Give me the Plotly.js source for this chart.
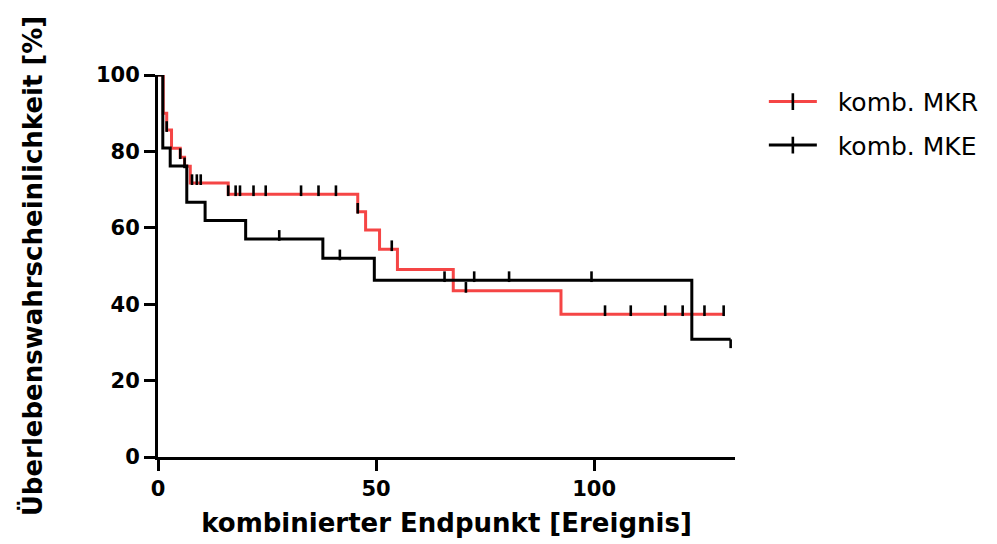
<!DOCTYPE html>
<html>
<head>
<meta charset="utf-8">
<script src="https://cdn.plot.ly/plotly-3.0.1.min.js"></script>
<style>html,body{margin:0;padding:0;background:#fff;}#chart{width:997px;height:544px;}</style>
</head>
<body>
<div id="chart"></div>
<script>
// ---- data ----
const seriesNames = ["komb. MKR", "komb. MKE"];

// komb. MKR (red): step times and survival (%) after each step
const mkrTimes = [0, 1.2, 2.0, 3.1, 5.1, 6.1, 7.4, 16.1, 45.8, 47.6, 50.8, 54.9, 67.7, 92.4];
const mkrSurv  = [100, 90.0, 85.6, 80.8, 78.5, 76.1, 71.7, 68.8, 64.2, 59.4, 54.4, 49.1, 43.5, 37.4];
const mkrEnd = 129.7;
const mkrCensored = [2.0, 5.1, 6.1, 7.8, 8.9, 9.8, 16.1, 17.8, 18.8, 21.9, 24.7, 32.8, 36.8, 40.8,
                     45.8, 53.6, 70.6, 102.5, 108.4, 116.3, 120.3, 125.3, 129.7];

// komb. MKE (black)
const mkeTimes = [0, 1.1, 2.8, 6.6, 10.8, 20.1, 37.8, 49.6, 122.4];
const mkeSurv  = [100, 80.9, 76.2, 66.7, 61.9, 57.1, 52.0, 46.3, 30.8];
const mkeEnd = 131.3;
const mkeCensored = [27.8, 41.7, 65.7, 72.5, 80.5, 99.4, 131.3];

const xTicks = [0, 50, 100];
const yTicks = [0, 20, 40, 60, 80, 100];
const xTitle = "kombinierter Endpunkt [Ereignis]";
const yTitle = "Überlebenswahrscheinlichkeit [%]";

// ---- helpers ----
function survAt(times, surv, t) {
  let v = surv[0];
  for (let i = 0; i < times.length; i++) if (times[i] <= t + 1e-9) v = surv[i];
  return v;
}
function stepTrace(times, surv, end, color) {
  return {
    x: times.concat([end]), y: surv.concat([surv[surv.length - 1]]),
    type: 'scatter', mode: 'lines', line: {shape: 'hv', color: color, width: 3},
    showlegend: false, hoverinfo: 'skip', cliponaxis: false
  };
}
// censor ticks drawn as short vertical bars; the final tick of a curve that ends
// after a drop (MKE) points downward as in the reference
function censorTrace(times, surv, cens, end, lastDown) {
  const isDown = t => lastDown && t === end;
  return {
    x: cens, y: cens.map(t => survAt(times, surv, t)),
    type: 'scatter', mode: 'markers', marker: {size: 1, opacity: 0, color: 'black'},
    error_y: {type: 'data', symmetric: false,
              array: cens.map(t => isDown(t) ? 0 : 2.3),
              arrayminus: cens.map(t => isDown(t) ? 2.3 : 0.5),
              color: 'black', thickness: 2.6, width: 0},
    showlegend: false, hoverinfo: 'skip', cliponaxis: false
  };
}
function legendTrace(name, color) {
  return {
    x: [null], y: [null], name: '\u00a0\u00a0' + name, type: 'scatter', mode: 'lines+markers',
    line: {color: color, width: 3},
    marker: {symbol: 'line-ns', size: 12, color: 'black', line: {color: 'black', width: 2.6}},
    legendgroup: name
  };
}

const red = '#f54545';
const data = [
  stepTrace(mkrTimes, mkrSurv, mkrEnd, red),
  stepTrace(mkeTimes, mkeSurv, mkeEnd, 'black'),
  censorTrace(mkrTimes, mkrSurv, mkrCensored, mkrEnd, false),
  censorTrace(mkeTimes, mkeSurv, mkeCensored, mkeEnd, true),
  legendTrace(seriesNames[0], red),
  legendTrace(seriesNames[1], 'black')
];

const tickFont = {family: 'DejaVu Sans, Arial, sans-serif', size: 21, color: 'black', weight: 'bold'};
const titleFont = {family: 'DejaVu Sans, Arial, sans-serif', size: 26, color: 'black', weight: 'bold'};

const layout = {
  width: 997, height: 544,
  margin: {l: 158, r: 262, t: 75, b: 87, pad: 0},
  paper_bgcolor: 'white', plot_bgcolor: 'white',
  showlegend: true,
  legend: {
    x: 1.05, xanchor: 'left', y: 0.99, yanchor: 'top',
    font: {family: 'DejaVu Sans, Arial, sans-serif', size: 25, color: 'black'},
    itemwidth: 48, traceorder: 'grouped', tracegroupgap: 8,
    bgcolor: 'rgba(0,0,0,0)'
  },
  xaxis: {
    range: [0, 132.3], tickvals: xTicks, ticktext: xTicks.map(String),
    showgrid: false, zeroline: false, showline: true, linecolor: 'black', linewidth: 3,
    ticks: 'outside', ticklen: 11, tickwidth: 3, tickcolor: 'black',
    tickfont: tickFont,
    title: {text: xTitle, font: titleFont, standoff: 14}
  },
  yaxis: {
    range: [0, 100], tickvals: yTicks, ticktext: yTicks.map(String),
    showgrid: false, zeroline: false, showline: true, linecolor: 'black', linewidth: 3,
    ticks: 'outside', ticklen: 11, tickwidth: 3, tickcolor: 'black',
    tickfont: tickFont,
    title: {text: yTitle, font: titleFont, standoff: 46}
  }
};

Plotly.newPlot('chart', data, layout, {displayModeBar: false, staticPlot: true});
</script>
</body>
</html>
